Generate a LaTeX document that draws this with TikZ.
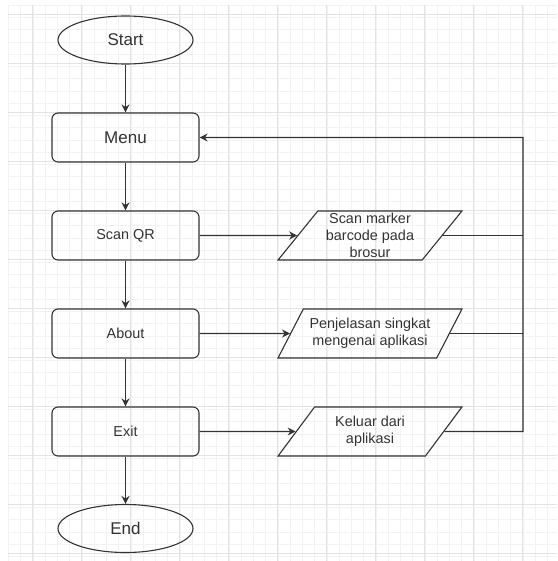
\documentclass[tikz,border=0pt]{standalone}
\usepackage{fontspec}
\setmainfont{Liberation Sans}
\usetikzlibrary{shapes.geometric,arrows.meta}
\definecolor{ink}{HTML}{333333}

\begin{document}
\begin{tikzpicture}[x=1pt,y=-1pt,
	term/.style={ellipse,draw=ink,line width=1.1pt,minimum width=135pt,minimum height=48pt,inner sep=0pt,text=ink,font=\fontsize{17}{20}\selectfont},
	proc/.style={rectangle,rounded corners=6pt,draw=ink,line width=1.1pt,minimum width=147pt,minimum height=49pt,inner sep=0pt,text=ink,font=\fontsize{14.4}{17}\selectfont},
	io/.style={trapezium,trapezium left angle=53,trapezium right angle=127,trapezium stretches=true,draw=ink,line width=1.1pt,minimum width=184pt,minimum height=49pt,inner sep=0pt,align=center,text=ink,font=\fontsize{14.4}{17}\selectfont},
	line/.style={draw=ink,line width=1.1pt},
	flow/.style={line,-{Stealth[length=8pt,width=8pt]}}]
	\useasboundingbox (0,0) rectangle (557,561);
	%GRID
	\foreach \i in {8.5,20.75,...,557} \draw[black!5,line width=0.7pt] (\i,5) -- (\i,561);
	\foreach \j in {5.25,17.5,...,561} \draw[black!5,line width=0.7pt] (8,\j) -- (557,\j);
	\foreach \i in {32,81,...,557} \draw[black!11,line width=0.9pt] (\i,5) -- (\i,561);
	\foreach \j in {14,63,...,561} \draw[black!11,line width=0.9pt] (8,\j) -- (557,\j);
	%FLOW
	\node[term] (start) at (125.5,40) {Start};
	\node[proc,font=\fontsize{17}{20}\selectfont] (menu) at (125.5,137.5) {Menu};
	\node[proc] (scan) at (125.5,235.5) {Scan QR};
	\node[proc] (about) at (125.5,333.5) {About};
	\node[proc] (exit) at (125.5,431.5) {Exit};
	\node[term] (end) at (125.5,528.5) {End};
	\node[io] (marker) at (370,235.5) {Scan marker\\barcode pada\\brosur};
	\node[io] (info) at (370,333.5) {Penjelasan singkat\\mengenai aplikasi};
	\node[io] (keluar) at (370,431.5) {Keluar dari\\aplikasi};
	\coordinate (loop) at (523,431.5);
	\draw[flow] (start) -- (menu);
	\draw[flow] (menu) -- (scan);
	\draw[flow] (scan) -- (about);
	\draw[flow] (about) -- (exit);
	\draw[flow] (exit) -- (end);
	\draw[flow] (scan.east) -- (marker.west);
	\draw[flow] (about.east) -- (info.west);
	\draw[flow] (exit.east) -- (keluar.west);
	%BACK TO MENU
	\draw[line] (marker.east) -- (marker.east -| loop);
	\draw[line] (info.east) -- (info.east -| loop);
	\draw[flow] (keluar.east) -- (loop) -- (menu.east -| loop) -- (menu.east);
\end{tikzpicture}
\end{document}
